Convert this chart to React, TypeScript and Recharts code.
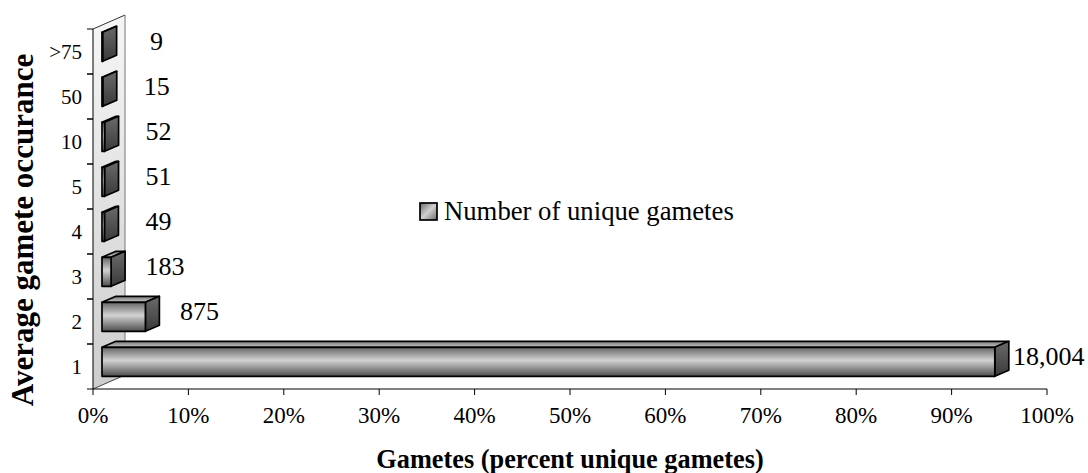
import React from 'react';
import { BarChart, Bar, XAxis, YAxis, LabelList, Legend, ReferenceArea } from 'recharts';

const categories = ['1', '2', '3', '4', '5', '10', '50', '>75'];
const uniqueGametes = [18004, 875, 183, 49, 51, 52, 15, 9];
const xTicks = [0, 10, 20, 30, 40, 50, 60, 70, 80, 90, 100];
const seriesName = 'Number of unique gametes';
const xTitle = 'Gametes (percent unique gametes)';
const yTitle = 'Average gamete occurance';

const total = uniqueGametes.reduce((a, b) => a + b, 0);
const data = categories.map((c, i) => ({
  cat: c,
  count: uniqueGametes[i],
  pct: (uniqueGametes[i] / total) * 100,
}));

const FONT = '"Liberation Serif", "Times New Roman", serif';
const SHIFT_X = 9;
const SHIFT_Y = -4.7;
const DX = 14;
const DY = 6;
const WALL_DX = 32;
const WALL_DY = 14;
const TICK_SIZE = 6;
const TICK_MARGIN = 5;

const Box3D = (props: any) => {
  const { x, y, width, height } = props;
  const x0 = x + SHIFT_X;
  const y0 = y + SHIFT_Y;
  const w = Math.max(width, 0.6);
  const h = height;
  return (
    <g stroke="#000" strokeWidth={1.7} strokeLinejoin="round">
      <path d={`M${x0},${y0} L${x0 + DX},${y0 - DY} L${x0 + w + DX},${y0 - DY} L${x0 + w},${y0} Z`} fill="url(#gTop)" />
      <path d={`M${x0 + w},${y0} L${x0 + w + DX},${y0 - DY} L${x0 + w + DX},${y0 + h - DY} L${x0 + w},${y0 + h} Z`} fill="url(#gSide)" />
      <rect x={x0} y={y0} width={w} height={h} fill="url(#gFront)" />
    </g>
  );
};

const Wall = (props: any) => {
  const { x, y, height } = props;
  const b = y + height;
  return (
    <g>
      <path d={`M${x},${y} L${x + WALL_DX},${y - WALL_DY} L${x + WALL_DX},${b - WALL_DY} L${x},${b} Z`} fill="url(#gWall)" stroke="none" />
      <line x1={x} y1={y} x2={x + WALL_DX} y2={y - WALL_DY} stroke="#333" strokeWidth={1} />
      <line x1={x + WALL_DX} y1={y - WALL_DY} x2={x + WALL_DX} y2={b - WALL_DY} stroke="#777" strokeWidth={1} />
      <line x1={x} y1={b} x2={x + WALL_DX} y2={b - WALL_DY} stroke="#444" strokeWidth={1} />
    </g>
  );
};

const ValueLabel = (props: any) => {
  const vb = props.x !== undefined ? props : props.viewBox;
  const { x, y, width, height } = vb;
  return (
    <text x={x + SHIFT_X + width + 54} y={y + height / 2 - 1.5} textAnchor="middle" fontSize={26} fontFamily={FONT} fill="#000">
      {Number(props.value).toLocaleString('en-US')}
    </text>
  );
};

const CatTick = (props: any) => {
  const { x, y, payload } = props;
  const off = payload && payload.offset ? payload.offset : 22.5;
  const ax = x + TICK_MARGIN + TICK_SIZE;
  return (
    <g>
      <line x1={ax - TICK_SIZE} x2={ax} y1={y - off} y2={y - off} stroke="#000" />
      <line x1={ax - TICK_SIZE} x2={ax} y1={y + off} y2={y + off} stroke="#000" />
      <text x={x} y={y} dy="0.36em" textAnchor="end" fontSize={21} fontFamily={FONT} fill="#000">
        {payload.value}
      </text>
    </g>
  );
};

const YTitle = (p: any) => {
  const vb = p.viewBox;
  const cx = vb.x + 33;
  const cy = vb.y + vb.height / 2 + 21;
  return (
    <text transform={`rotate(-90 ${cx} ${cy})`} x={cx} y={cy} textAnchor="middle" fontSize={31} fontWeight="bold" fontFamily={FONT} fill="#000">
      {yTitle}
    </text>
  );
};

const LegendContent = (p: any) => {
  const item = p.payload && p.payload[0];
  return (
    <div style={{ display: 'flex', alignItems: 'center', fontFamily: FONT, fontSize: 26.7, lineHeight: '30px', color: '#000', whiteSpace: 'nowrap' }}>
      <svg width={19} height={19} style={{ display: 'block' }}>
        <defs>
          <linearGradient id="gLeg" x1="0" y1="0" x2="1" y2="1">
            <stop offset="0" stopColor="#6a6a6a" />
            <stop offset="0.5" stopColor="#d0d0d0" />
            <stop offset="1" stopColor="#6a6a6a" />
          </linearGradient>
        </defs>
        <rect x={1} y={1} width={17} height={17} fill="url(#gLeg)" stroke="#000" strokeWidth={1.7} />
      </svg>
      <span style={{ marginLeft: 6 }}>{item ? item.value : seriesName}</span>
    </div>
  );
};

export default function App() {
  return (
    <div style={{ position: 'absolute', left: 0, top: 0, width: 1088, height: 473, background: '#fff' }}>
      <BarChart
        width={1088}
        height={473}
        data={data}
        layout="vertical"
        margin={{ top: 29, right: 41, bottom: 0, left: 0 }}
        barSize={29}
      >
        <defs>
          <linearGradient id="gFront" x1="0" y1="0" x2="0" y2="1">
            <stop offset="0" stopColor="#666666" />
            <stop offset="0.45" stopColor="#d2d2d2" />
            <stop offset="1" stopColor="#4e4e4e" />
          </linearGradient>
          <linearGradient id="gSide" x1="0" y1="0" x2="0" y2="1">
            <stop offset="0" stopColor="#6a6a6a" />
            <stop offset="1" stopColor="#3a3a3a" />
          </linearGradient>
          <linearGradient id="gTop" x1="0" y1="0" x2="0" y2="1">
            <stop offset="0" stopColor="#7c7c7c" />
            <stop offset="1" stopColor="#c4c4c4" />
          </linearGradient>
          <linearGradient id="gWall" x1="0" y1="0" x2="0" y2="1">
            <stop offset="0" stopColor="#f6f6f6" />
            <stop offset="1" stopColor="#cdcdcd" />
          </linearGradient>
        </defs>
        <ReferenceArea x1={0} x2={100} ifOverflow="visible" shape={<Wall />} />
        <XAxis
          type="number"
          domain={[0, 100]}
          ticks={xTicks}
          tickFormatter={(v: number) => `${v}%`}
          tick={{ fill: '#000', fontSize: 23, fontFamily: FONT }}
          axisLine={{ stroke: '#000' }}
          tickLine={{ stroke: '#000' }}
          tickSize={6}
          tickMargin={12}
          height={84}
          label={{ value: xTitle, position: 'insideBottom', offset: 5, fontSize: 26.3, fontWeight: 'bold', fill: '#000', fontFamily: FONT }}
        />
        <YAxis
          type="category"
          dataKey="cat"
          reversed
          width={93}
          axisLine={{ stroke: '#000' }}
          tickLine={false}
          tickSize={TICK_SIZE}
          tickMargin={TICK_MARGIN}
          tick={<CatTick />}
          interval={0}
          label={{ content: YTitle }}
        />
        <Legend
          verticalAlign="middle"
          align="center"
          layout="horizontal"
          wrapperStyle={{ left: 419, top: 196, width: 'auto' }}
          content={LegendContent}
        />
        <Bar dataKey="pct" name={seriesName} isAnimationActive={false} shape={<Box3D />}>
          <LabelList dataKey="count" content={ValueLabel} />
        </Bar>
      </BarChart>
    </div>
  );
}
